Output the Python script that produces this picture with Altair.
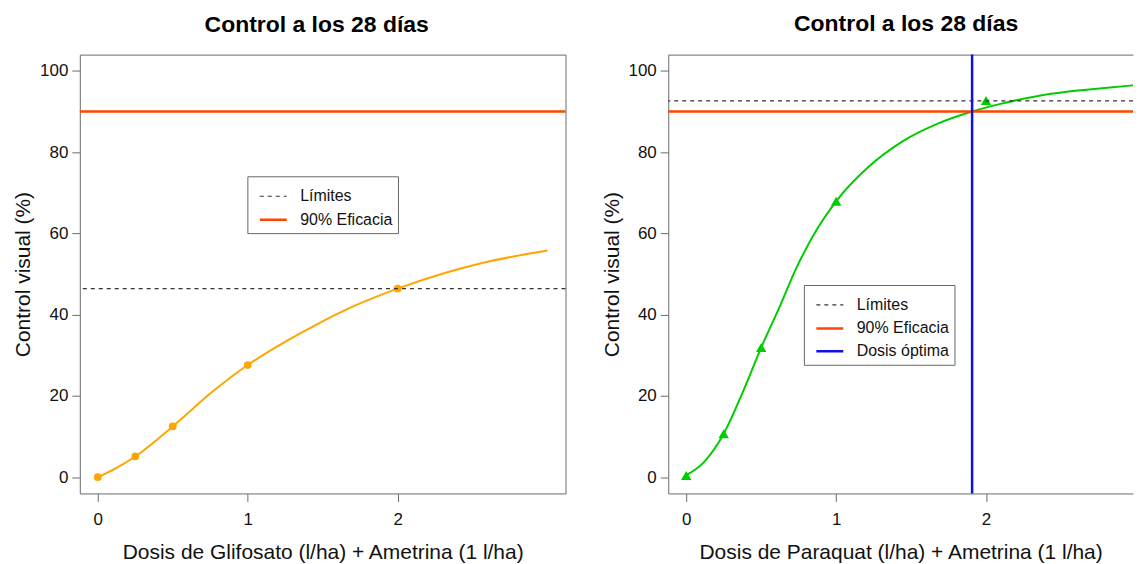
import altair as alt
import pandas as pd

# ---- data ----
gli_dose = [0, 0.25, 0.5, 1, 2]
gli_ctrl = [0, 5.1, 12.5, 27.6, 46.4]
gli_fit_x = [0, 0.11, 0.25, 0.5, 0.77, 1, 1.22, 1.44, 1.66, 2, 2.32, 2.55, 3]
gli_fit_y = [0, 2.0, 5.1, 12.5, 21.2, 27.6, 32.7, 37.2, 41.3, 46.4, 50.3, 52.6, 55.8]
gli_limit = 46.4

par_dose = [0, 0.25, 0.5, 1, 2]
par_ctrl = [0.4, 10.7, 31.9, 67.9, 92.7]
par_fit_x = [0, 0.115, 0.25, 0.38, 0.5, 0.625, 0.735, 0.87, 1, 1.22, 1.44, 1.67, 1.907, 2.11, 2.33, 2.55, 2.77, 3]
par_fit_y = [0.5, 3.6, 10.7, 21.2, 31.9, 42.1, 51.5, 60.9, 67.9, 76.5, 82.6, 86.9, 90.0, 92.0, 93.7, 94.9, 95.7, 96.5]
par_limit = 92.6

eficacia = 90
dosis_optima = 1.907

ref_labels = ["Límites", "90% Eficacia", "Dosis óptima"]
ref_colors = ["#333333", "#FF4500", "#1010E6"]
ref_dash = [[4, 4], [1, 0], [1, 0]]
ref_width = [1.2, 2.5, 2.5]

FONT = "Liberation Sans"
TITLE = "Control a los 28 días"
YTITLE = "Control visual (%)"
BOX = "#6b6b6b"

PX_PER_UNIT = 487 / 3.24


def panel(dose, ctrl, fit_x, fit_y, limit, color, shape, psize, xtitle, n_ref, vline,
          lx, ly, width, title_dx, boxed):
    labels = ref_labels[:n_ref]
    xmax = -0.12 + width / PX_PER_UNIT
    xs = alt.Scale(domain=[-0.12, xmax], nice=False, zero=False)
    ys = alt.Scale(domain=[-4, 104], nice=False, zero=False)
    xax = alt.Axis(values=[0, 1, 2], title=xtitle, format="d", domain=not boxed,
                   domainColor=BOX)
    yax = alt.Axis(values=[0, 20, 40, 60, 80, 100], title=YTITLE, domain=not boxed,
                   domainColor=BOX)

    fit = alt.Chart(pd.DataFrame({"dose": fit_x, "ctrl": fit_y})).mark_line(
        color=color, strokeWidth=2, interpolate="monotone", clip=True
    ).encode(x=alt.X("dose:Q", scale=xs, axis=xax), y=alt.Y("ctrl:Q", scale=ys, axis=yax))

    if boxed:
        px = alt.X("dose:Q", scale=xs)
    else:
        px = alt.X("dose:Q", scale=xs,
                   axis=alt.Axis(orient="top", ticks=False, labels=False, title=None,
                                 domain=True, domainColor=BOX))
    pts = alt.Chart(pd.DataFrame({"dose": dose, "ctrl": ctrl})).mark_point(
        filled=True, shape=shape, size=psize, color=color, opacity=1
    ).encode(x=px, y=alt.Y("ctrl:Q", scale=ys))

    leg = alt.Legend(
        orient="none", legendX=lx, legendY=ly, title=None, symbolType="stroke",
        symbolSize=729, symbolOffset=5.5, labelFontSize=16, labelFont=FONT,
        labelColor="#111111", labelOffset=12, rowPadding=-7, padding=5.5,
        strokeColor="#666666", fillColor="white", labelLimit=300,
    )
    cs = alt.Scale(domain=labels, range=ref_colors[:n_ref])
    ds = alt.Scale(domain=labels, range=ref_dash[:n_ref])
    ws = alt.Scale(type="ordinal", domain=labels, range=ref_width[:n_ref])

    hl_df = pd.DataFrame({"label": labels[:2], "ctrl": [limit, eficacia]})
    hl = alt.Chart(hl_df).mark_rule().encode(
        y=alt.Y("ctrl:Q", scale=ys),
        color=alt.Color("label:N", scale=cs, legend=leg, sort=labels),
        strokeDash=alt.StrokeDash("label:N", scale=ds, legend=leg, sort=labels),
        strokeWidth=alt.StrokeWidth("label:N", scale=ws, legend=leg, sort=labels),
    )
    layers = [fit, pts, hl]
    if vline is not None:
        vl_df = pd.DataFrame({"label": [labels[2]], "dose": [vline]})
        vl = alt.Chart(vl_df).mark_rule().encode(
            x=alt.X("dose:Q", scale=xs, axis=None),
            color=alt.Color("label:N", scale=cs, legend=leg, sort=labels),
            strokeDash=alt.StrokeDash("label:N", scale=ds, legend=leg, sort=labels),
            strokeWidth=alt.StrokeWidth("label:N", scale=ws, legend=leg, sort=labels),
        )
        layers.append(vl)
    ch = alt.layer(*layers).properties(
        width=width, height=440,
        title=alt.TitleParams(TITLE, fontSize=23, font=FONT, fontWeight="bold",
                              color="#000000", offset=17.5, anchor="middle",
                              frame="group", dx=title_dx),
        view=alt.ViewBackground(stroke=BOX if boxed else "transparent", strokeWidth=1),
    )
    if not boxed:
        ch = ch.resolve_axis(x="independent")
    return ch


left = panel(gli_dose, gli_ctrl, gli_fit_x, gli_fit_y, gli_limit, "#FFA500", "circle", 60,
             "Dosis de Glifosato (l/ha) + Ametrina (1 l/ha)", 2, None, 168, 122,
             487, -6, True)
right = panel(par_dose, par_ctrl, par_fit_x, par_fit_y, par_limit, "#00CD00", "triangle-up", 110,
              "Dosis de Paraquat (l/ha) + Ametrina (1 l/ha)", 3, dosis_optima, 136, 231,
              466, 5.5, False)

chart = alt.hconcat(left, right, spacing=103, bounds="flush").resolve_scale(
    color="independent", strokeDash="independent", strokeWidth="independent",
    x="independent", y="independent",
).resolve_legend(color="independent", strokeDash="independent", strokeWidth="independent").configure(
    padding={"left": 4, "top": 3, "right": 0, "bottom": 0},
    background="white",
).configure_axis(
    labelFont=FONT, titleFont=FONT, labelFontSize=17, titleFontSize=21,
    labelColor="#111111", titleColor="#111111", titleFontWeight="normal",
    grid=False, tickColor=BOX, tickSize=8, tickWidth=1,
).configure_axisX(
    labelPadding=10, titlePadding=14,
).configure_axisY(
    labelPadding=4, titlePadding=5.6,
)

chart.save("out.html", embed_options={"renderer": "svg", "actions": False})
